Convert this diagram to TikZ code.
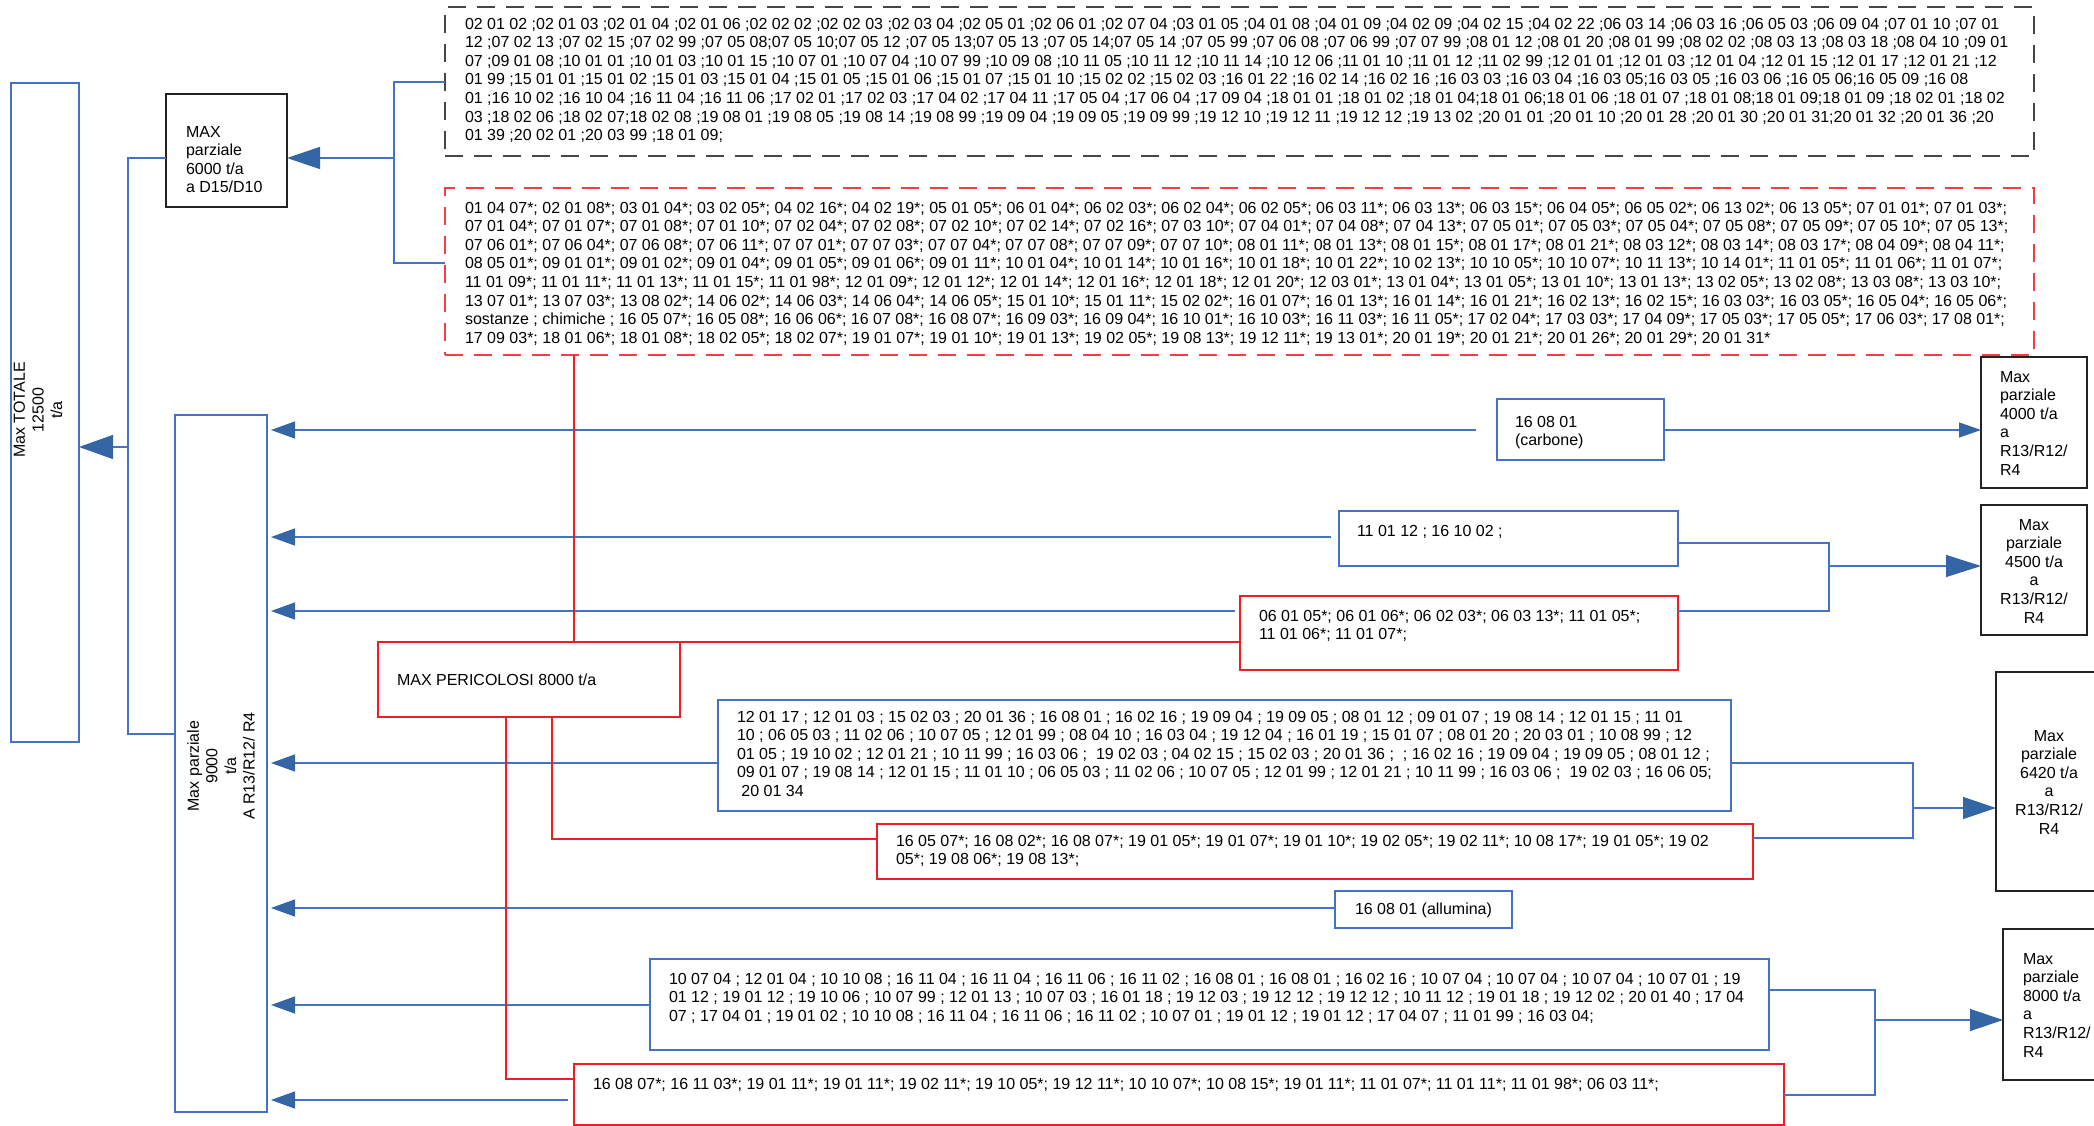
\documentclass[tikz,border=0pt]{standalone}
\usepackage{fontspec}
\setmainfont{Liberation Sans}
\usetikzlibrary{arrows.meta}
\definecolor{linecol}{RGB}{68,114,196}
\definecolor{arrcol}{RGB}{52,101,164}
\definecolor{redcol}{RGB}{238,30,36}
\definecolor{darkcol}{RGB}{35,35,35}
\definecolor{dashcol}{RGB}{70,70,70}
\newcommand\mkbox[6]{\node[#1, minimum width={#5-#3}, minimum height={#6-#4}] (#2) at (#3,#4) {};}
\begin{document}
\begin{tikzpicture}[x=1pt,y=-1pt,
 every node/.style={inner sep=0pt,outer sep=0pt,font=\fontsize{16pt}{18.6pt}\selectfont},
 bx/.style={draw, rectangle, anchor=north west, line width=1.4pt},
 bluebox/.style={bx, draw=linecol},
 blackbox/.style={bx, draw=darkcol},
 redbx/.style={bx, draw=redcol},
 dashbx/.style={bx, draw=dashcol, line width=1.3pt, dash pattern=on 18pt off 11pt},
 reddashbx/.style={bx, draw=redcol!85!white, line width=1.3pt, dash pattern=on 18pt off 11pt},
 txt/.style={anchor=north west, align=left, text=black},
 bline/.style={draw=linecol, line width=1.3pt},
 rline/.style={draw=redcol, line width=1.1pt},
 headL/.style={-{Triangle[length=33pt,width=22pt,color=arrcol]}},
 headM/.style={-{Triangle[length=24pt,width=17pt,color=arrcol]}},
 headS/.style={-{Triangle[length=22pt,width=15pt,color=arrcol]}},
]
\useasboundingbox[fill=white] (0,0) rectangle (2094,1126);

% ---------- boxes ----------
\mkbox{bluebox}{tot}{11}{83}{79}{742}
\mkbox{blackbox}{p6000}{166}{94}{287}{207}
\mkbox{bluebox}{nine}{175}{415}{267}{1112}
\mkbox{dashbx}{topbox}{445}{7}{2034}{156}
\mkbox{reddashbx}{redbox}{445}{188}{2034}{355}
\mkbox{bluebox}{carb}{1497}{399}{1664}{460}
\mkbox{blackbox}{b4000}{1981}{357}{2087}{488}
\mkbox{bluebox}{b1101}{1339}{511}{1678}{566}
\mkbox{redbx}{r0601}{1240}{596}{1678}{670}
\mkbox{blackbox}{b4500}{1981}{505}{2087}{635}
\mkbox{redbx}{peric}{378}{642}{680}{717}
\mkbox{bluebox}{b1201}{718}{700}{1731}{811}
\mkbox{redbx}{r1605}{877}{824}{1753}{879}
\mkbox{blackbox}{b6420}{1996}{672}{2110}{891}
\mkbox{bluebox}{allum}{1335}{891}{1512}{928}
\mkbox{bluebox}{b1007}{650}{959}{1769}{1050}
\mkbox{redbx}{rbot}{574}{1064}{1784}{1125}
\mkbox{blackbox}{b8000}{2003}{929}{2110}{1080}

% ---------- texts ----------
\node[rotate=90, align=center] (ttot) at (38,410) {Max TOTALE\\12500\\t/a};
\node[txt] (t6000) at (186,126) {MAX\\parziale\\6000 t/a\\a D15/D10};
\node[rotate=90, align=center] (tnine) at (221,766) {Max parziale\\9000\\t/a\\A R13/R12/ R4};

\node[txt] (ttop) at (465,18) {02 01 02 ;02 01 03 ;02 01 04 ;02 01 06 ;02 02 02 ;02 02 03 ;02 03 04 ;02 05 01 ;02 06 01 ;02 07 04 ;03 01 05 ;04 01 08 ;04 01 09 ;04 02 09 ;04 02 15 ;04 02 22 ;06 03 14 ;06 03 16 ;06 05 03 ;06 09 04 ;07 01 10 ;07 01\\
12 ;07 02 13 ;07 02 15 ;07 02 99 ;07 05 08;07 05 10;07 05 12 ;07 05 13;07 05 13 ;07 05 14;07 05 14 ;07 05 99 ;07 06 08 ;07 06 99 ;07 07 99 ;08 01 12 ;08 01 20 ;08 01 99 ;08 02 02 ;08 03 13 ;08 03 18 ;08 04 10 ;09 01\\
07 ;09 01 08 ;10 01 01 ;10 01 03 ;10 01 15 ;10 07 01 ;10 07 04 ;10 07 99 ;10 09 08 ;10 11 05 ;10 11 12 ;10 11 14 ;10 12 06 ;11 01 10 ;11 01 12 ;11 02 99 ;12 01 01 ;12 01 03 ;12 01 04 ;12 01 15 ;12 01 17 ;12 01 21 ;12\\
01 99 ;15 01 01 ;15 01 02 ;15 01 03 ;15 01 04 ;15 01 05 ;15 01 06 ;15 01 07 ;15 01 10 ;15 02 02 ;15 02 03 ;16 01 22 ;16 02 14 ;16 02 16 ;16 03 03 ;16 03 04 ;16 03 05;16 03 05 ;16 03 06 ;16 05 06;16 05 09 ;16 08\\
01 ;16 10 02 ;16 10 04 ;16 11 04 ;16 11 06 ;17 02 01 ;17 02 03 ;17 04 02 ;17 04 11 ;17 05 04 ;17 06 04 ;17 09 04 ;18 01 01 ;18 01 02 ;18 01 04;18 01 06;18 01 06 ;18 01 07 ;18 01 08;18 01 09;18 01 09 ;18 02 01 ;18 02\\
03 ;18 02 06 ;18 02 07;18 02 08 ;19 08 01 ;19 08 05 ;19 08 14 ;19 08 99 ;19 09 04 ;19 09 05 ;19 09 99 ;19 12 10 ;19 12 11 ;19 12 12 ;19 13 02 ;20 01 01 ;20 01 10 ;20 01 28 ;20 01 30 ;20 01 31;20 01 32 ;20 01 36 ;20\\
01 39 ;20 02 01 ;20 03 99 ;18 01 09;};

\node[txt] (tred) at (465,202) {01 04 07*; 02 01 08*; 03 01 04*; 03 02 05*; 04 02 16*; 04 02 19*; 05 01 05*; 06 01 04*; 06 02 03*; 06 02 04*; 06 02 05*; 06 03 11*; 06 03 13*; 06 03 15*; 06 04 05*; 06 05 02*; 06 13 02*; 06 13 05*; 07 01 01*; 07 01 03*;\\
07 01 04*; 07 01 07*; 07 01 08*; 07 01 10*; 07 02 04*; 07 02 08*; 07 02 10*; 07 02 14*; 07 02 16*; 07 03 10*; 07 04 01*; 07 04 08*; 07 04 13*; 07 05 01*; 07 05 03*; 07 05 04*; 07 05 08*; 07 05 09*; 07 05 10*; 07 05 13*;\\
07 06 01*; 07 06 04*; 07 06 08*; 07 06 11*; 07 07 01*; 07 07 03*; 07 07 04*; 07 07 08*; 07 07 09*; 07 07 10*; 08 01 11*; 08 01 13*; 08 01 15*; 08 01 17*; 08 01 21*; 08 03 12*; 08 03 14*; 08 03 17*; 08 04 09*; 08 04 11*;\\
08 05 01*; 09 01 01*; 09 01 02*; 09 01 04*; 09 01 05*; 09 01 06*; 09 01 11*; 10 01 04*; 10 01 14*; 10 01 16*; 10 01 18*; 10 01 22*; 10 02 13*; 10 10 05*; 10 10 07*; 10 11 13*; 10 14 01*; 11 01 05*; 11 01 06*; 11 01 07*;\\
11 01 09*; 11 01 11*; 11 01 13*; 11 01 15*; 11 01 98*; 12 01 09*; 12 01 12*; 12 01 14*; 12 01 16*; 12 01 18*; 12 01 20*; 12 03 01*; 13 01 04*; 13 01 05*; 13 01 10*; 13 01 13*; 13 02 05*; 13 02 08*; 13 03 08*; 13 03 10*;\\
13 07 01*; 13 07 03*; 13 08 02*; 14 06 02*; 14 06 03*; 14 06 04*; 14 06 05*; 15 01 10*; 15 01 11*; 15 02 02*; 16 01 07*; 16 01 13*; 16 01 14*; 16 01 21*; 16 02 13*; 16 02 15*; 16 03 03*; 16 03 05*; 16 05 04*; 16 05 06*;\\
sostanze ; chimiche ; 16 05 07*; 16 05 08*; 16 06 06*; 16 07 08*; 16 08 07*; 16 09 03*; 16 09 04*; 16 10 01*; 16 10 03*; 16 11 03*; 16 11 05*; 17 02 04*; 17 03 03*; 17 04 09*; 17 05 03*; 17 05 05*; 17 06 03*; 17 08 01*;\\
17 09 03*; 18 01 06*; 18 01 08*; 18 02 05*; 18 02 07*; 19 01 07*; 19 01 10*; 19 01 13*; 19 02 05*; 19 08 13*; 19 12 11*; 19 13 01*; 20 01 19*; 20 01 21*; 20 01 26*; 20 01 29*; 20 01 31*};

\node[txt] (tcarb) at (1515,416) {16 08 01\\(carbone)};
\node[txt] (t4000) at (2000,371) {Max\\parziale\\4000 t/a\\a\\R13/R12/\\R4};
\node[txt] (t1101) at (1357,525) {11 01 12 ; 16 10 02 ;};
\node[anchor=north, align=center] (t4500) at (2034,519) {Max\\parziale\\4500 t/a\\a\\R13/R12/\\R4};
\node[txt] (t0601) at (1259,610) {06 01 05*; 06 01 06*; 06 02 03*; 06 03 13*; 11 01 05*;\\11 01 06*; 11 01 07*;};
\node[txt] (tperic) at (397,674) {MAX PERICOLOSI 8000 t/a};
\node[txt] (t1201) at (737,711) {12 01 17 ; 12 01 03 ; 15 02 03 ; 20 01 36 ; 16 08 01 ; 16 02 16 ; 19 09 04 ; 19 09 05 ; 08 01 12 ; 09 01 07 ; 19 08 14 ; 12 01 15 ; 11 01\\
10 ; 06 05 03 ; 11 02 06 ; 10 07 05 ; 12 01 99 ; 08 04 10 ; 16 03 04 ; 19 12 04 ; 16 01 19 ; 15 01 07 ; 08 01 20 ; 20 03 01 ; 10 08 99 ; 12\\
01 05 ; 19 10 02 ; 12 01 21 ; 10 11 99 ; 16 03 06 ;\ \ 19 02 03 ; 04 02 15 ; 15 02 03 ; 20 01 36 ;\ \ ; 16 02 16 ; 19 09 04 ; 19 09 05 ; 08 01 12 ;\\
09 01 07 ; 19 08 14 ; 12 01 15 ; 11 01 10 ; 06 05 03 ; 11 02 06 ; 10 07 05 ; 12 01 99 ; 12 01 21 ; 10 11 99 ; 16 03 06 ;\ \ 19 02 03 ; 16 06 05;\\
\ 20 01 34};
\node[anchor=north, align=center] (t6420) at (2049,730) {Max\\parziale\\6420 t/a\\a\\R13/R12/\\R4};
\node[txt] (t1605) at (896,835) {16 05 07*; 16 08 02*; 16 08 07*; 19 01 05*; 19 01 07*; 19 01 10*; 19 02 05*; 19 02 11*; 10 08 17*; 19 01 05*; 19 02\\05*; 19 08 06*; 19 08 13*;};
\node[txt] (tallum) at (1355,903) {16 08 01 (allumina)};
\node[txt] (t1007) at (669,973) {10 07 04 ; 12 01 04 ; 10 10 08 ; 16 11 04 ; 16 11 04 ; 16 11 06 ; 16 11 02 ; 16 08 01 ; 16 08 01 ; 16 02 16 ; 10 07 04 ; 10 07 04 ; 10 07 04 ; 10 07 01 ; 19\\
01 12 ; 19 01 12 ; 19 10 06 ; 10 07 99 ; 12 01 13 ; 10 07 03 ; 16 01 18 ; 19 12 03 ; 19 12 12 ; 19 12 12 ; 10 11 12 ; 19 01 18 ; 19 12 02 ; 20 01 40 ; 17 04\\
07 ; 17 04 01 ; 19 01 02 ; 10 10 08 ; 16 11 04 ; 16 11 06 ; 16 11 02 ; 10 07 01 ; 19 01 12 ; 19 01 12 ; 17 04 07 ; 11 01 99 ; 16 03 04;};
\node[txt] (t8000) at (2023,953) {Max\\parziale\\8000 t/a\\a\\R13/R12/\\R4};
\node[txt] (tbot) at (593,1078) {16 08 07*; 16 11 03*; 19 01 11*; 19 01 11*; 19 02 11*; 19 10 05*; 19 12 11*; 10 10 07*; 10 08 15*; 19 01 11*; 11 01 07*; 11 01 11*; 11 01 98*; 06 03 11*;};

% ---------- left connectors ----------
\coordinate (vl1) at (128,158);
\coordinate (vl2) at (128,734);
\coordinate (vlm) at (128,447);
\draw[bline] (p6000.west |- vl1) -- (vl1) -- (vl2) -- (nine.west |- vl2);
\draw[bline,-{Triangle[length=34pt,width=24pt,color=arrcol]}] (vlm) -- (tot.east |- vlm);

\coordinate (vt1) at (394,82);
\coordinate (vt2) at (394,263);
\coordinate (vtm) at (394,158);
\draw[bline] (topbox.west |- vt1) -- (vt1) -- (vt2) -- (redbox.west |- vt2);
\draw[bline,headL] (vtm) -- (p6000.east |- vtm);

% ---------- arrows into the 9000 box ----------
\coordinate (a1) at (1476,430);
\coordinate (a2) at (1331,537);
\coordinate (a3) at (1235,611);
\coordinate (a4) at (718,763);
\coordinate (a5) at (1335,908);
\coordinate (a6) at (650,1005);
\coordinate (a7) at (568,1100);
\foreach \c in {a1,a2,a3,a4,a5,a6,a7}
  \draw[bline,headM] (\c) -- ([xshift=4pt]nine.east |- \c);

% ---------- right connectors ----------
\coordinate (c40) at (1664,430);
\draw[bline,headS] (carb.east |- c40) -- (b4000.west |- c40);

\coordinate (j45a) at (1829,543);
\coordinate (j45b) at (1829,611);
\coordinate (j45m) at (1829,566);
\draw[bline] (b1101.east |- j45a) -- (j45a) -- (j45b) -- (r0601.east |- j45b);
\draw[bline,-{Triangle[length=35pt,width=22pt,color=arrcol]}] (j45m) -- (b4500.west |- j45m);

\coordinate (j64a) at (1913,763);
\coordinate (j64b) at (1913,838);
\coordinate (j64m) at (1913,808);
\draw[bline] (b1201.east |- j64a) -- (j64a) -- (j64b) -- (r1605.east |- j64b);
\draw[bline,headL] (j64m) -- (b6420.west |- j64m);

\coordinate (j80a) at (1875,990);
\coordinate (j80b) at (1875,1095);
\coordinate (j80m) at (1875,1020);
\draw[bline] (b1007.east |- j80a) -- (j80a) -- (j80b) -- (rbot.east |- j80b);
\draw[bline,headL] (j80m) -- (b8000.west |- j80m);

% ---------- red connectors ----------
\coordinate (rx1) at (574,355);
\draw[rline] (rx1) -- (peric.north -| rx1);
\draw[rline] (peric.north east) -- (peric.north east -| r0601.west);
\coordinate (rj1) at (552,839);
\draw[rline] (peric.south -| rj1) -- (rj1) -- (r1605.west |- rj1);
\coordinate (rj2) at (506,1079);
\draw[rline] (peric.south -| rj2) -- (rj2) -- (rbot.west |- rj2);
\end{tikzpicture}
\end{document}
